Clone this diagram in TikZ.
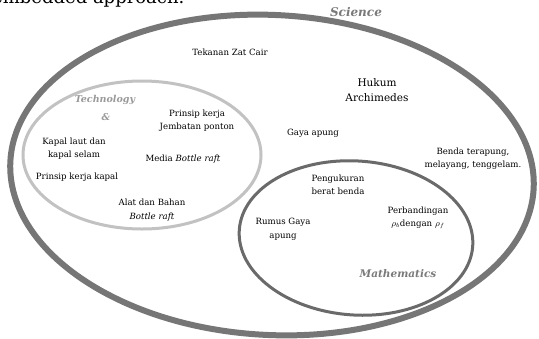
\documentclass[tikz,border=0pt]{standalone}
\usepackage{fontspec}
\setmainfont{DejaVu Serif}
\definecolor{outerc}{HTML}{767676}
\definecolor{techc}{HTML}{C2C2C2}
\definecolor{mathc}{HTML}{6A6A6A}
\definecolor{labc}{HTML}{7A7A7A}
\definecolor{techlab}{HTML}{9A9A9A}
\begin{document}
\begin{tikzpicture}[x=1pt,y=-1pt,
  lbl/.style={align=center,inner sep=0pt,font=\fontsize{8.6}{13.5}\selectfont},
  big/.style={align=center,inner sep=0pt,font=\fontsize{10.5}{15.5}\selectfont},
  head/.style={inner sep=0pt,text=labc,font=\fontsize{11}{13}\selectfont\bfseries\itshape}]
\useasboundingbox (0,0) rectangle (539,338);
\clip (0,0) rectangle (539,338);
\fill[white] (0,0) rectangle (539,338);
% cut-off text at top
\node[anchor=base west,inner sep=0pt,font=\fontsize{18}{20}\selectfont] (top) at (-8,3) {embedded approach.};
% ellipses
\draw[outerc,line width=6pt,rotate around={-3:(272,175)}] (272,175) ellipse [x radius=262, y radius=160];
\draw[techc,line width=3pt] (142,155) ellipse [x radius=119, y radius=74];
\draw[mathc,line width=3pt,rotate around={-4:(356,238)}] (356,238) ellipse [x radius=117, y radius=77];
% headings
\node[head,font=\fontsize{12}{14}\selectfont\bfseries\itshape] (sci) at (356,12) {Science};
\node[head,text=techlab,font=\fontsize{9.5}{12}\selectfont\bfseries\itshape] (tech) at (105,100) {Technology};
\node[head,text=techlab,font=\fontsize{9.5}{12}\selectfont\bfseries\itshape] (amp) at (106,117) {\&};
\node[head,font=\fontsize{10.5}{13}\selectfont\bfseries\itshape] (math) at (398,274) {Mathematics};
% labels
\node[lbl] (tzc) at (230,52) {Tekanan Zat Cair};
\node[big] (huk) at (377,90) {Hukum\\Archimedes};
\node[lbl] (pkj) at (197,120.5) {Prinsip kerja\\Jembatan ponton};
\node[lbl] (kap) at (74,148.5) {Kapal laut dan\\kapal selam};
\node[lbl] (med) at (183,159) {Media \textit{Bottle raft}};
\node[lbl] (pkk) at (77,177) {Prinsip kerja kapal};
\node[lbl] (alat) at (152,210) {Alat dan Bahan\\\textit{Bottle raft}};
\node[lbl] (gaya) at (313,133) {Gaya apung};
\node[lbl] (benda) at (473,158.5) {Benda terapung,\\melayang, tenggelam.};
\node[lbl] (peng) at (338,185) {Pengukuran\\berat benda};
\node[lbl] (rum) at (283,229.5) {Rumus Gaya\\apung};
\node[lbl] (perb) at (418,218) {Perbandingan\\$\rho_b$dengan $\rho_f$};
\end{tikzpicture}
\end{document}
